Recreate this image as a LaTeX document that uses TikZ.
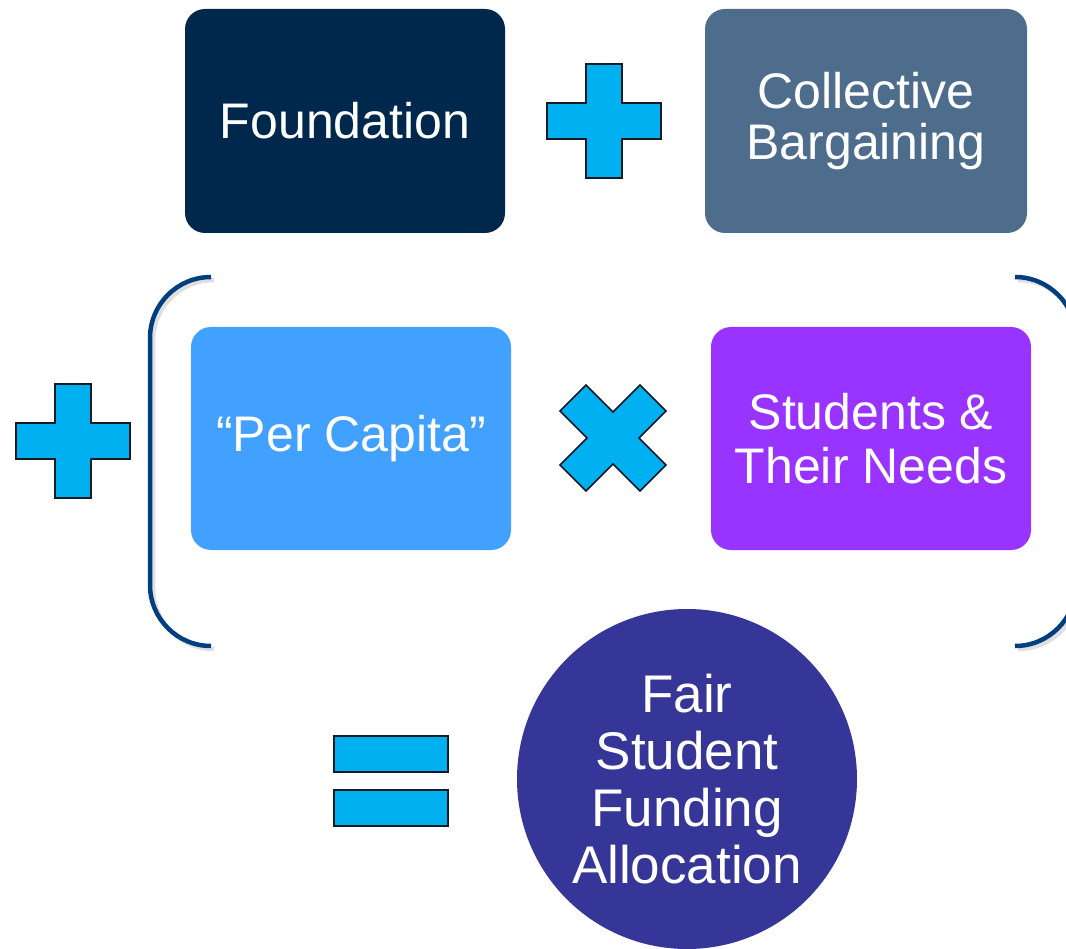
\documentclass[tikz,border=0pt]{standalone}
\usepackage{fontspec}
\setmainfont{Liberation Sans}
\definecolor{foundcol}{RGB}{0,40,77}
\definecolor{bargcol}{RGB}{78,109,140}
\definecolor{capcol}{RGB}{66,160,255}
\definecolor{needcol}{RGB}{153,51,255}
\definecolor{faircol}{RGB}{54,53,152}
\definecolor{signcol}{RGB}{0,176,240}
\definecolor{signline}{RGB}{22,26,36}
\definecolor{bracecol}{RGB}{0,63,127}

\begin{document}
\begin{tikzpicture}[line cap=round,line join=round,x=1pt,y=-1pt,
    box/.style={rounded corners=20pt,minimum width=320pt,minimum height=224pt,
        inner sep=0pt,text=white,align=center,font=\fontsize{50}{54}\selectfont},
    sign/.style={fill=signcol,draw=signline,line width=1.5pt,line join=miter},
    brace/.style={draw=bracecol,line width=4.5pt,line cap=butt,rounded corners=61pt}]
    \useasboundingbox (0,0) rectangle (1066,949);
    \clip (0,0) rectangle (1066,949);

    % top row
    \node[box,fill=foundcol] (found) at (345,121) {Foundation};
    \node[box,fill=bargcol,minimum width=322pt] (barg) at (866,121) {\raisebox{-3pt}{Collective}\\Bargaining};

    % middle row
    \node[box,fill=capcol,minimum height=223pt] (cap) at (351,438.5) {\raisebox{-3pt}{“Per Capita”}};
    \node[box,fill=needcol,minimum height=223pt] (need) at (871,438.5) {Students \&\\Their Needs};

    % result
    \node[circle,fill=faircol,minimum size=340pt,inner sep=0pt,text=white,align=center,
        font=\fontsize{53}{57}\selectfont] (fair) at (687,779) {Fair\\Student\\Funding\\Allocation};

    % brackets round the product, with a light shadow
    \foreach \dx/\col/\op in {3/gray/0.25,0/bracecol/1} {
        \draw[brace,draw=\col,draw opacity=\op,shift={(\dx,\dx)}]
            (211,277) -- (150,277) -- (150,646) -- (211,646);
        \draw[brace,draw=\col,draw opacity=\op,shift={(\dx,\dx)}]
            (1015,277) -- (1076,277) -- (1076,646) -- (1015,646);
    }

    % plus signs
    \foreach \cx/\cy in {604/121,73/441}
    \draw[sign,shift={(\cx,\cy)}] (-18,-57) -- (18,-57) -- (18,-18) -- (57,-18) -- (57,18)
        -- (18,18) -- (18,57) -- (-18,57) -- (-18,18) -- (-57,18) -- (-57,-18) -- (-18,-18) -- cycle;

    % times sign
    \draw[sign,shift={(613,438)}] (-53,-27) -- (-27,-53) -- (0,-26) -- (27,-53) -- (53,-27)
        -- (26,0) -- (53,27) -- (27,53) -- (0,26) -- (-27,53) -- (-53,27) -- (-26,0) -- cycle;

    % equals sign
    \foreach \y in {736,790}
    \draw[sign] (334,\y) rectangle (448,\y+36);
\end{tikzpicture}
\end{document}
